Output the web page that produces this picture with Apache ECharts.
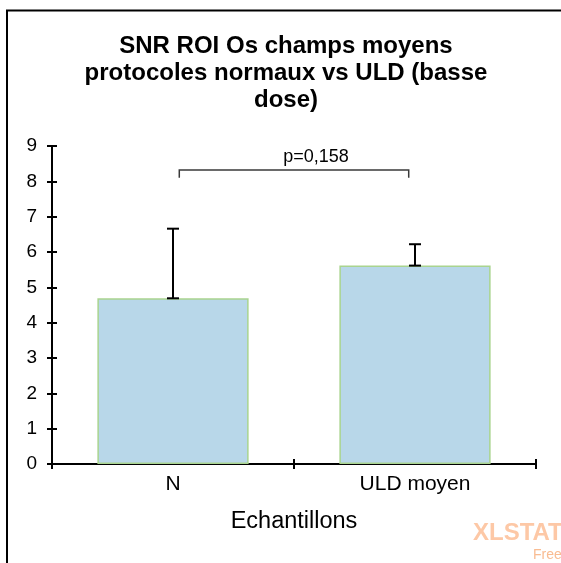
<!DOCTYPE html>
<html>
<head>
<meta charset="utf-8">
<script src="https://cdn.jsdelivr.net/npm/echarts@6/dist/echarts.min.js"></script>
<style>
  html, body { margin: 0; padding: 0; background: #fff; }
  #chart { width: 561px; height: 563px; }
</style>
</head>
<body>
<div id="chart"></div>
<script>
// Samples and their mean SNR with upper error (mean + deviation)
const categories = ['N', 'ULD moyen'];
const means = [4.69, 5.615];
const upperErrors = [6.66, 6.22];
const yTicks = { min: 0, max: 9, interval: 1 };
// Significance bracket between the two samples
const bracketLevel = 8.32;
const bracketFoot = 8.1;
const pLabel = 'p=0,158';

const FONT = '"Liberation Sans", Arial, Helvetica, sans-serif';
const chart = echarts.init(document.getElementById('chart'), null, { renderer: 'canvas' });

const axisLine = { show: true, lineStyle: { color: '#000', width: 2 } };

chart.setOption({
  animation: false,
  backgroundColor: '#fff',
  title: {
    text: 'SNR ROI Os champs moyens\nprotocoles normaux vs ULD (basse\ndose)',
    left: 281,
    textAlign: 'center',
    top: 28,
    textStyle: { fontFamily: FONT, fontSize: 24, fontWeight: 'bold', color: '#000', lineHeight: 27 }
  },
  grid: { left: 52, right: 25, top: 146, bottom: 99 },
  xAxis: [{
    type: 'category',
    data: categories,
    boundaryGap: true,
    name: 'Echantillons',
    nameLocation: 'middle',
    nameGap: 46,
    nameTextStyle: { fontFamily: FONT, fontSize: 23.5, color: '#000' },
    axisLine: axisLine,
    axisTick: { show: true, length: 5, lineStyle: { color: '#000', width: 2 } },
    axisLabel: { fontFamily: FONT, fontSize: 21, color: '#000', margin: 10 },
    splitLine: { show: false }
  }, {
    type: 'category',
    data: categories,
    position: 'bottom',
    axisLine: { show: false },
    axisTick: { show: true, inside: true, length: 5, lineStyle: { color: '#000', width: 2 } },
    axisLabel: { show: false },
    splitLine: { show: false }
  }],
  yAxis: [{
    type: 'value',
    min: yTicks.min, max: yTicks.max, interval: yTicks.interval,
    axisLine: axisLine,
    axisTick: { show: true, length: 5, lineStyle: { color: '#000', width: 2 } },
    axisLabel: { fontFamily: FONT, fontSize: 19, color: '#000', margin: 15 },
    splitLine: { show: false }
  }, {
    type: 'value',
    min: yTicks.min, max: yTicks.max, interval: yTicks.interval,
    position: 'left',
    axisLine: { show: false },
    axisTick: { show: true, inside: true, length: 5, lineStyle: { color: '#000', width: 2 } },
    axisLabel: { show: false },
    splitLine: { show: false }
  }],
  series: [{
    type: 'bar',
    data: means,
    barCategoryGap: '37.5%',
    itemStyle: { color: '#B8D7E9', borderColor: '#A9D48F', borderWidth: 1.5 }
  }, {
    // upper error bars with caps at mean and at top
    type: 'custom',
    data: categories.map((c, i) => [i, means[i], upperErrors[i]]),
    z: 5,
    renderItem: function (params, api) {
      const base = api.coord([api.value(0), api.value(1)]);
      const top = api.coord([api.value(0), api.value(2)]);
      const half = 6;
      const style = { stroke: '#000', lineWidth: 2 };
      return {
        type: 'group',
        children: [
          { type: 'line', shape: { x1: base[0], y1: base[1], x2: top[0], y2: top[1] }, style: style },
          { type: 'line', shape: { x1: base[0] - half, y1: base[1], x2: base[0] + half, y2: base[1] }, style: style },
          { type: 'line', shape: { x1: top[0] - half, y1: top[1], x2: top[0] + half, y2: top[1] }, style: style }
        ]
      };
    }
  }, {
    // significance bracket and p-value
    type: 'custom',
    data: [[0, 1, bracketLevel, bracketFoot]],
    z: 5,
    renderItem: function (params, api) {
      const band = api.size([1, 0])[0];
      const a = api.coord([api.value(0), api.value(2)]);
      const b = api.coord([api.value(1), api.value(2)]);
      const foot = api.coord([api.value(0), api.value(3)])[1];
      const inset = band * 0.026;
      const x1 = a[0] + inset, x2 = b[0] - inset, y = a[1];
      return {
        type: 'group',
        children: [
          { type: 'polyline', shape: { points: [[x1, foot], [x1, y], [x2, y], [x2, foot]] },
            style: { stroke: '#3a3a3a', lineWidth: 1.5, fill: null } },
          { type: 'text', style: { text: pLabel, x: (x1 + x2) / 2 + 22, y: y - 4,
            align: 'center', verticalAlign: 'bottom', font: '18px ' + FONT, fill: '#000' } }
        ]
      };
    }
  }],
  graphic: [
    { type: 'line', shape: { x1: 6, y1: 10.5, x2: 561, y2: 10.5 }, style: { stroke: '#000', lineWidth: 2 } },
    { type: 'line', shape: { x1: 7, y1: 10, x2: 7, y2: 563 }, style: { stroke: '#000', lineWidth: 2 } },
    { type: 'text', left: 473, top: 521, style: { text: 'XLSTAT', font: 'bold 24px ' + FONT, fill: '#FDC8A6' } },
    { type: 'text', left: 533, top: 548, style: { text: 'Free', font: '14px ' + FONT, fill: '#F9BC92' } }
  ]
});
</script>
</body>
</html>
